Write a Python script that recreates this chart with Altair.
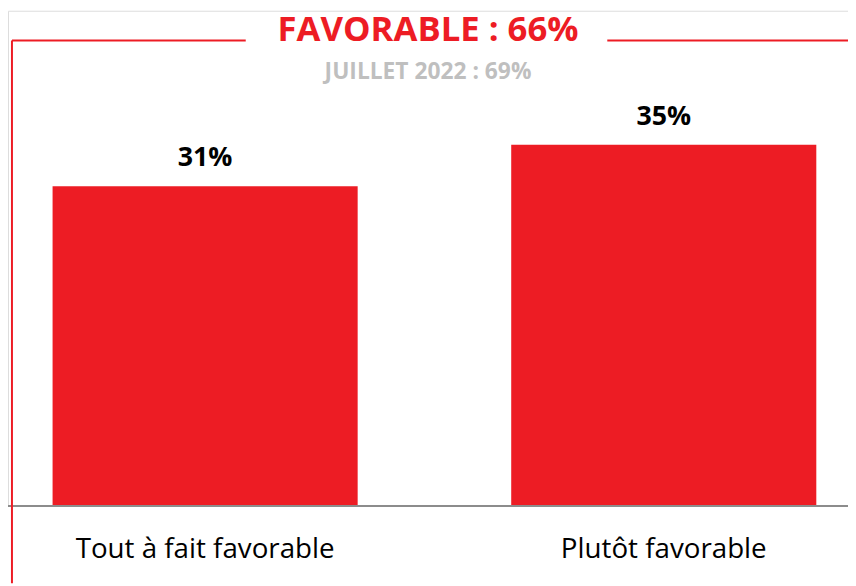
import altair as alt
import pandas as pd

categories = ["Tout à fait favorable", "Plutôt favorable"]
values = [31, 35]
value_labels = ["31%", "35%"]
title_text = "FAVORABLE : 66%"
subtitle_text = "JUILLET 2022 : 69%"

RED = "#ED1C24"
FONT = "Open Sans"

df = pd.DataFrame({"cat": categories, "val": values, "lab": value_labels})

x_enc = alt.X("cat:N", sort=categories,
              scale=alt.Scale(range=[45, 816], paddingInner=0.3348, paddingOuter=0),
              axis=alt.Axis(title=None, domain=False, ticks=False, labelAngle=0,
                            labelFontSize=28, labelFont=FONT, labelColor="#000000",
                            labelPadding=30, labelLimit=400))
y_enc = alt.Y("val:Q", scale=alt.Scale(domain=[0, 48], nice=False, zero=True), axis=None)

bars = alt.Chart(df).mark_bar(color=RED).encode(x=x_enc, y=y_enc)
labels = alt.Chart(df).mark_text(font=FONT, fontSize=27, fontWeight="bold",
                                 color="#000000", baseline="alphabetic", dy=-20).encode(
    x=alt.X("cat:N", sort=categories), y="val:Q", text="lab:N")

base = alt.Chart(pd.DataFrame({"t": [title_text], "s": [subtitle_text]}))
baseline_rule = base.mark_rule(color="#8C8C8C", strokeWidth=2).encode(
    x=alt.value(0), x2=alt.value(848), y=alt.datum(0))
vline = base.mark_rule(color=RED, strokeWidth=2).encode(
    x=alt.value(4), y=alt.value(30), y2=alt.value(578))
hline_l = base.mark_rule(color=RED, strokeWidth=2).encode(
    x=alt.value(4), x2=alt.value(240), y=alt.value(30))
hline_r = base.mark_rule(color=RED, strokeWidth=2).encode(
    x=alt.value(605), x2=alt.value(848), y=alt.value(30))
title = base.mark_text(font=FONT, fontSize=35, fontWeight="bold", color=RED,
                       align="center", baseline="alphabetic").encode(
    x=alt.value(424), y=alt.value(31), text="t:N")
subtitle = base.mark_text(font=FONT, fontSize=23, fontWeight="bold", color="#BFBFBF",
                          align="center", baseline="alphabetic").encode(
    x=alt.value(424), y=alt.value(69), text="s:N")

chart = alt.layer(bars, baseline_rule, labels, vline, hline_l, hline_r, title, subtitle).properties(
    width=848, height=500,
    autosize=alt.AutoSizeParams(type="none"),
    padding={"left": 0, "top": 0, "right": 0, "bottom": 78},
).configure_view(stroke=None).configure(background="white")

chart.save("out.html", embed_options={"renderer": "svg", "actions": False})
